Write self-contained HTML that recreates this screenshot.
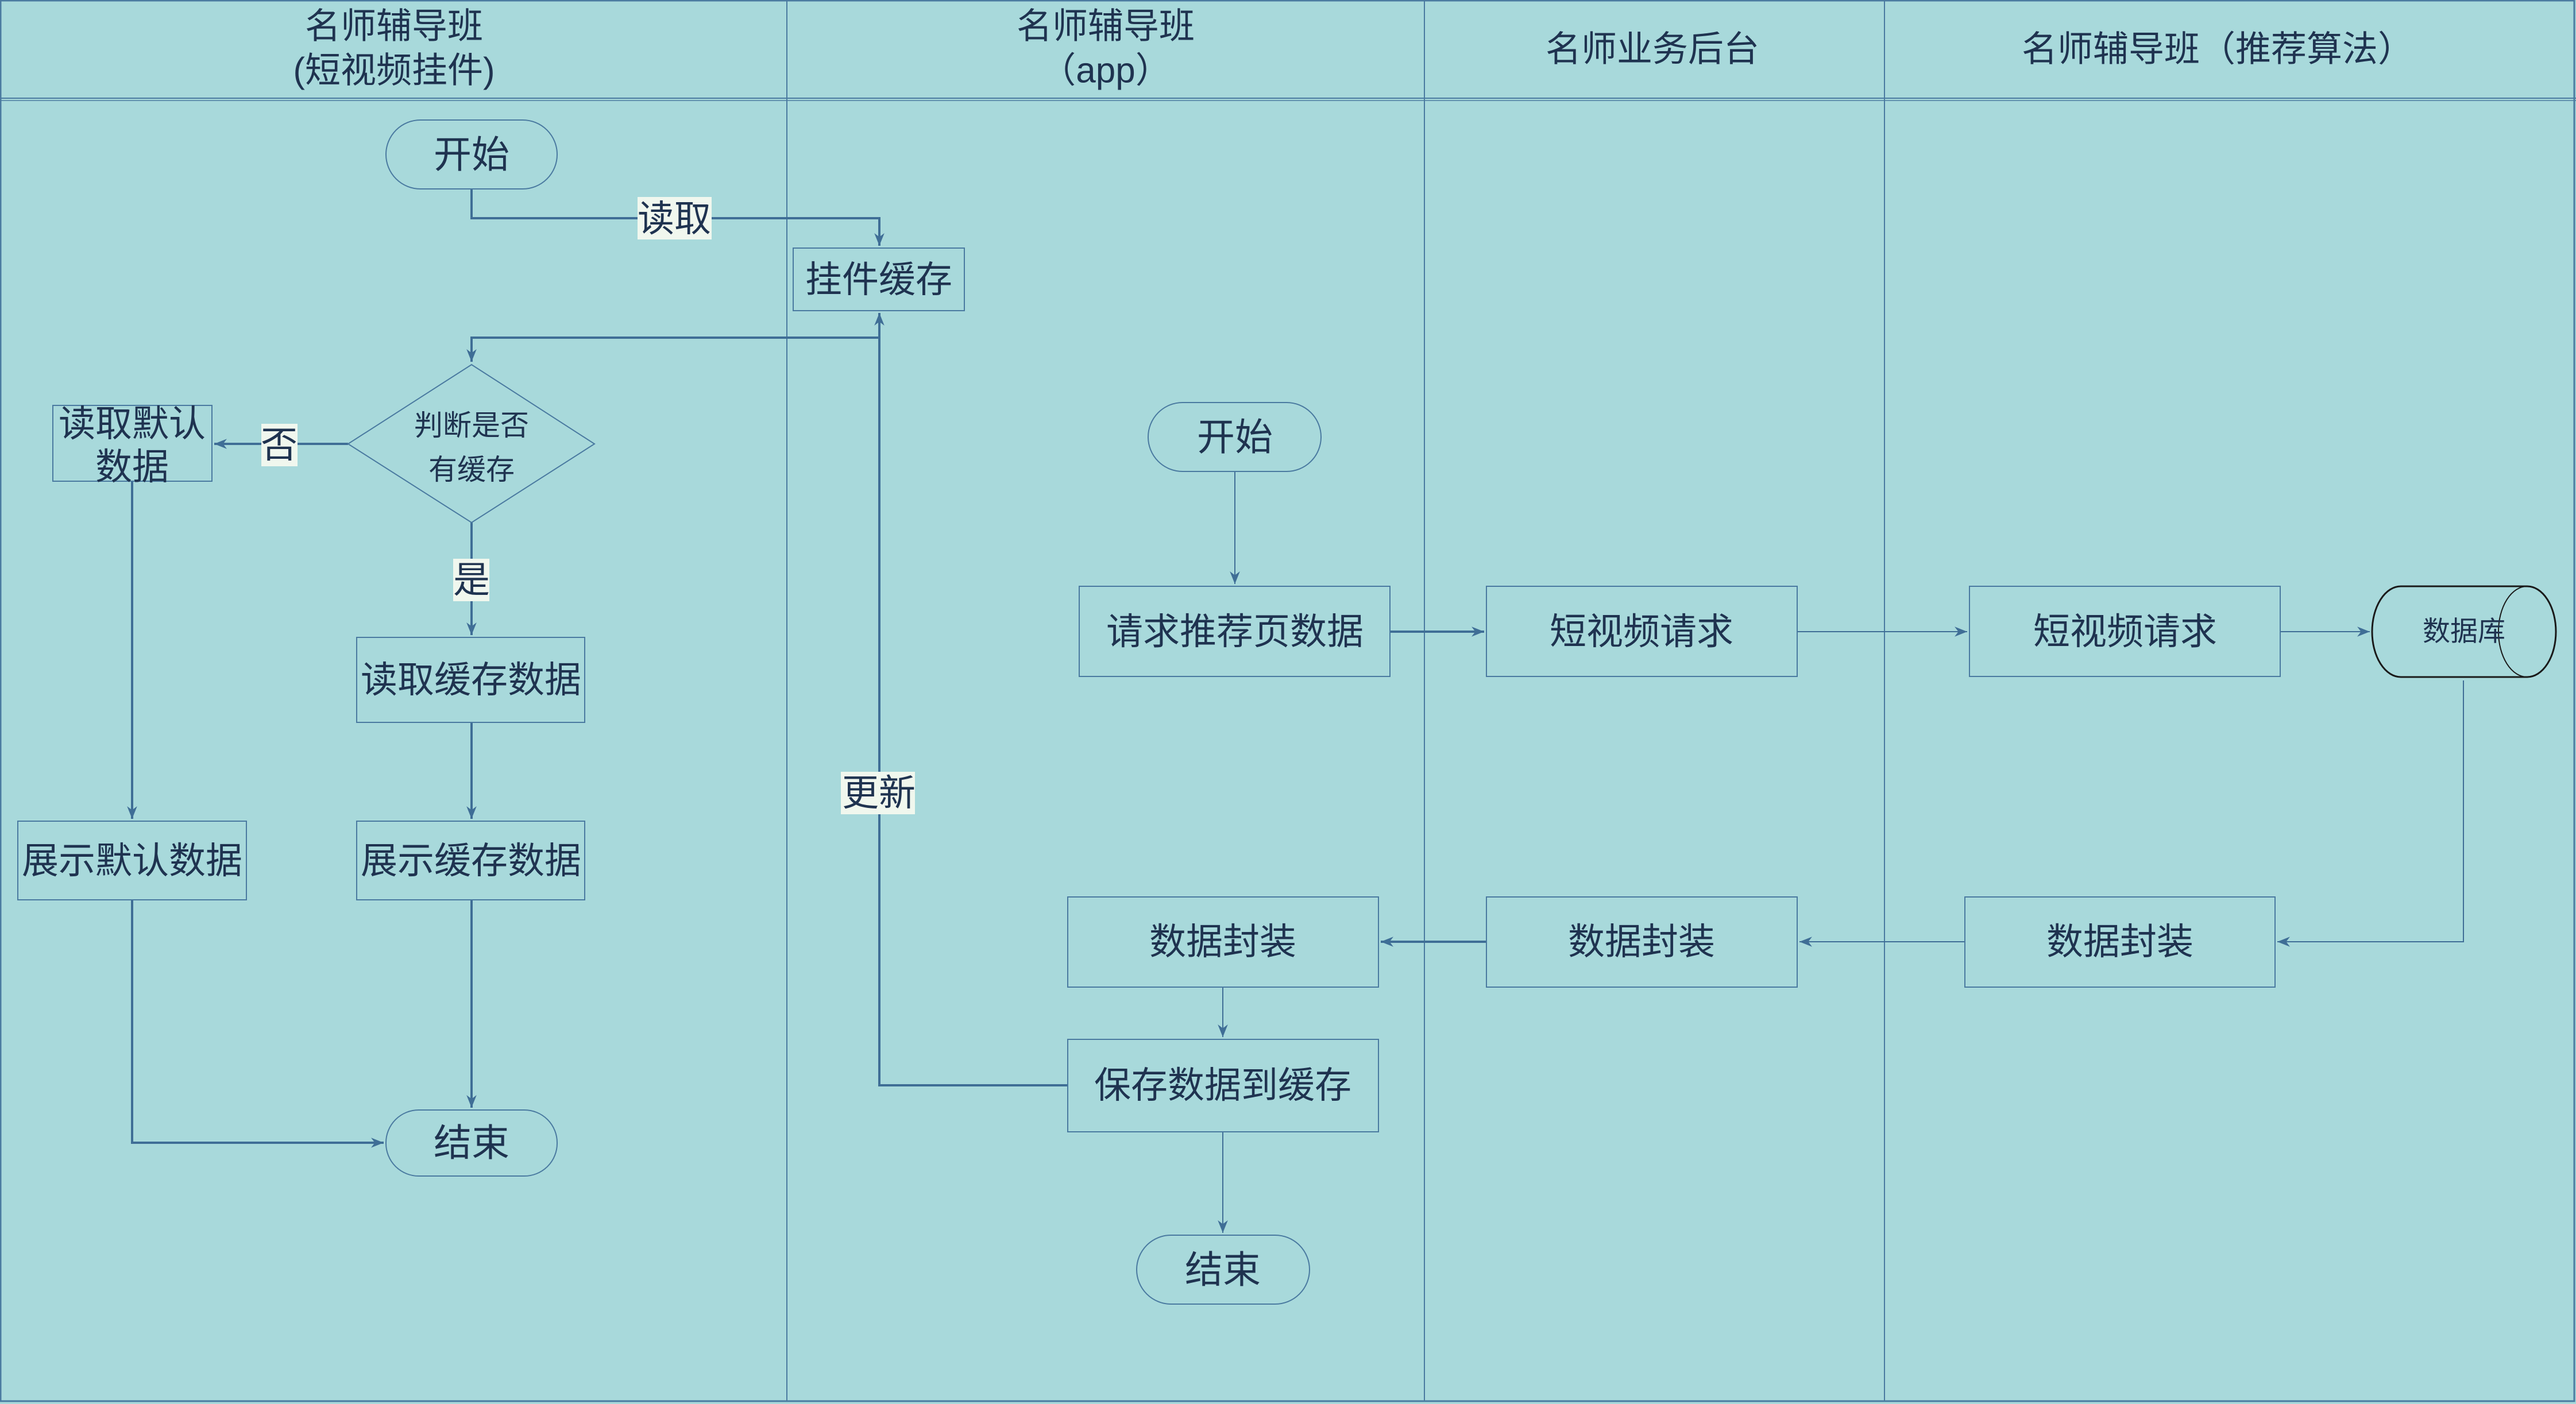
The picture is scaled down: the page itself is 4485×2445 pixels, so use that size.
<!DOCTYPE html>
<html><head><meta charset="utf-8"><style>
html,body{margin:0;padding:0;background:#a8d9db;}
svg{display:block;}
text{font-family:"Liberation Sans","Noto Sans CJK SC",sans-serif;fill:#1f3350;text-anchor:middle;dominant-baseline:central;}
.b{fill:none;stroke:#4a7aa0;stroke-width:2;}
.l{fill:none;stroke:#3f6e96;stroke-width:4;}
.t{fill:none;stroke:#3f6e96;stroke-width:2;}
.lb{fill:#f0f7ee;}
</style></head><body>
<svg width="4485" height="2445" viewBox="0 0 4485 2445" xmlns="http://www.w3.org/2000/svg">
<defs>
<marker id="a" viewBox="0 0 10 10" refX="10" refY="5" markerWidth="6" markerHeight="6" orient="auto-start-reverse" markerUnits="userSpaceOnUse"><path d="M0,0 L10,5 L0,10 L3,5 z" fill="#3f6e96" transform="scale(1)"/></marker>
<marker id="A" viewBox="0 0 10 10" refX="10" refY="5" markerWidth="22" markerHeight="22" orient="auto" markerUnits="userSpaceOnUse"><path d="M0,1 L10,5 L0,9 L3,5 z" fill="#3f6e96"/></marker>
</defs>
<rect x="0" y="0" width="4485" height="2445" fill="#a8d9db"/>
<!-- lanes -->
<rect x="1" y="1" width="4481" height="2439" fill="none" stroke="#4a7aa0" stroke-width="3"/>
<line x1="0" y1="171" x2="4485" y2="171" stroke="#4a7aa0" stroke-width="2"/>
<line x1="0" y1="175" x2="4485" y2="175" stroke="#4a7aa0" stroke-width="1.5"/>
<line x1="1370" y1="0" x2="1370" y2="2440" stroke="#4a7aa0" stroke-width="2"/>
<line x1="2480" y1="0" x2="2480" y2="2440" stroke="#4a7aa0" stroke-width="2"/>
<line x1="3281" y1="0" x2="3281" y2="2440" stroke="#4a7aa0" stroke-width="2"/>
<g font-size="62">
<text x="686" y="46">名师辅导班</text>
<text x="686" y="123">(短视频挂件)</text>
<text x="1925" y="46">名师辅导班</text>
<text x="1925" y="123">（app）</text>
<text x="2877" y="86">名师业务后台</text>
<text x="3861" y="86">名师辅导班（推荐算法）</text>
</g>
<!-- connectors -->
<g>
<path class="l" d="M821,329 V380 H1531 V428" marker-end="url(#A)"/>
<path class="l" d="M1531,588 H821 V630" marker-end="url(#A)"/>
<path class="l" d="M606,773 H373" marker-end="url(#A)"/>
<path class="l" d="M821,910 V1106" marker-end="url(#A)"/>
<path class="l" d="M821,1258 V1426" marker-end="url(#A)"/>
<path class="l" d="M821,1567 V1929" marker-end="url(#A)"/>
<path class="l" d="M230,838 V1426" marker-end="url(#A)"/>
<path class="l" d="M230,1567 V1990 H668" marker-end="url(#A)"/>
<path class="l" d="M1859,1890 H1531 V545" marker-end="url(#A)"/>
<path class="t" d="M2150,821 V1017" marker-end="url(#A)"/>
<path class="l" d="M2420,1100 H2584" marker-end="url(#A)"/>
<path class="t" d="M3129,1100 H3425" marker-end="url(#A)"/>
<path class="t" d="M3970,1100 H4126" marker-end="url(#A)"/>
<path class="t" d="M4289,1185 V1640 H3965" marker-end="url(#A)"/>
<path class="t" d="M3421,1640 H3133" marker-end="url(#A)"/>
<path class="l" d="M2588,1640 H2404" marker-end="url(#A)"/>
<path class="t" d="M2129,1719 V1806" marker-end="url(#A)"/>
<path class="t" d="M2129,1971 V2147" marker-end="url(#A)"/>
</g>
<!-- labels -->
<rect class="lb" x="1110" y="343" width="129" height="74"/><text x="1174" y="381" font-size="64">读取</text>
<rect class="lb" x="455" y="738" width="63" height="74"/><text x="486" y="775" font-size="64">否</text>
<rect class="lb" x="789" y="973" width="63" height="74"/><text x="821" y="1010" font-size="64">是</text>
<rect class="lb" x="1464" y="1344" width="129" height="74"/><text x="1530" y="1381" font-size="64">更新</text>
<!-- nodes lane1 -->
<rect class="b" x="672" y="209" width="298" height="120" rx="60"/><text x="821" y="269" font-size="66">开始</text>
<rect class="b" x="1381" y="432" width="298" height="109"/><text x="1530" y="487" font-size="64">挂件缓存</text>
<path class="b" d="M821,635 L1035,773 L821,910 L606,773 Z"/>
<text x="821" y="741" font-size="50">判断是否</text><text x="821" y="818" font-size="50">有缓存</text>
<rect class="b" x="92" y="706" width="277" height="132"/>
<text x="230" y="738" font-size="64">读取默认</text><text x="230" y="813" font-size="64">数据</text>
<rect class="b" x="621" y="1110" width="397" height="148"/><text x="820" y="1184" font-size="64">读取缓存数据</text>
<rect class="b" x="621" y="1430" width="397" height="137"/><text x="820" y="1499" font-size="64">展示缓存数据</text>
<rect class="b" x="31" y="1430" width="398" height="137"/><text x="230" y="1499" font-size="64">展示默认数据</text>
<rect class="b" x="672" y="1933" width="298" height="115" rx="57"/><text x="821" y="1990" font-size="66">结束</text>
<!-- lane2 -->
<rect class="b" x="1999" y="701" width="301" height="120" rx="60"/><text x="2150" y="761" font-size="66">开始</text>
<rect class="b" x="1879" y="1021" width="541" height="157"/><text x="2150" y="1100" font-size="64">请求推荐页数据</text>
<rect class="b" x="1859" y="1562" width="541" height="157"/><text x="2129" y="1640" font-size="64">数据封装</text>
<rect class="b" x="1859" y="1810" width="541" height="161"/><text x="2129" y="1890" font-size="64">保存数据到缓存</text>
<rect class="b" x="1979" y="2151" width="301" height="120" rx="60"/><text x="2129" y="2211" font-size="66">结束</text>
<!-- lane3 -->
<rect class="b" x="2588" y="1021" width="541" height="157"/><text x="2858" y="1100" font-size="64">短视频请求</text>
<rect class="b" x="2588" y="1562" width="541" height="157"/><text x="2858" y="1640" font-size="64">数据封装</text>
<!-- lane4 -->
<rect class="b" x="3429" y="1021" width="541" height="157"/><text x="3700" y="1100" font-size="64">短视频请求</text>
<rect class="b" x="3421" y="1562" width="540" height="157"/><text x="3691" y="1640" font-size="64">数据封装</text>
<path d="M4180,1021 H4400 A50,79 0 0 1 4400,1179 H4180 A50,79 0 0 1 4180,1021 Z" fill="#a8d9db" stroke="#1a1a1a" stroke-width="3"/>
<ellipse cx="4400" cy="1100" rx="50" ry="79" fill="none" stroke="#1a1a1a" stroke-width="2"/>
<text x="4290" y="1100" font-size="48">数据库</text>
</svg>
</body></html>
